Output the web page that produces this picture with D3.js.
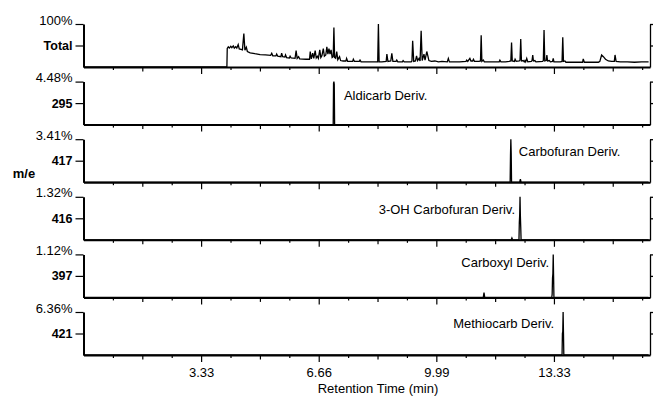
<!DOCTYPE html>
<html>
<head>
<meta charset="utf-8">
<script src="https://cdn.jsdelivr.net/npm/d3@7"></script>
<style>
body { margin: 0; background: #fff; }
svg { display: block; font-family: "Liberation Sans", Arial, Helvetica, sans-serif; }
</style>
</head>
<body>
<svg id="chrom" width="653" height="401"></svg>
<script>
var ionLabels = ['Total', '295', '417', '416', '397', '421'];
var maxLabels = ['100%', '4.48%', '3.41%', '1.32%', '1.12%', '6.36%'];
var peakNames = [null, 'Aldicarb Deriv.', 'Carbofuran Deriv.', '3-OH Carbofuran Deriv.', 'Carboxyl Deriv.', 'Methiocarb Deriv.'];
var peakTimes = [null, 7.09, 12.10, 12.36, 13.30, 13.58];
var xMajorTicks = [3.33, 6.66, 9.99, 13.33];
var xTickLabels = ['3.33', '6.66', '9.99', '13.33'];
var xMinorStep = 0.8325;
var timeMax = 16.04;

// [retention time (min), % of panel full scale]
var totalTrace = [
    [0,0],[4.06,0],[4.07,43],[4.10,47],[4.13,44],[4.17,48],[4.20,45],[4.24,49],[4.27,44],[4.31,47],[4.34,44],
    [4.38,52],[4.41,42],[4.46,41],[4.50,40],[4.54,78],[4.57,39],[4.61,46],[4.64,36],[4.72,33],[4.85,31],
    [5.00,29],[5.15,28],[5.30,27],[5.33,32],[5.36,26],[5.45,26],[5.47,30],[5.50,25],[5.59,24],[5.61,32],
    [5.64,24],[5.70,23],[5.72,28],[5.75,22],[5.83,21],[5.85,25],[5.88,21],[5.99,20],[6.02,38],[6.05,20],
    [6.09,24],[6.12,19],[6.30,18],[6.40,18],[6.42,36],[6.45,19],[6.49,32],[6.52,20],[6.56,38],[6.59,21],
    [6.62,25],[6.65,20],[6.69,40],[6.72,22],[6.75,26],[6.79,43],[6.82,25],[6.86,28],[6.89,47],[6.92,30],
    [6.95,43],[6.98,30],[7.01,40],[7.04,22],[7.07,24],[7.09,92],[7.11,22],[7.14,20],[7.17,36],[7.20,17],
    [7.25,24],[7.28,15],[7.35,14],[7.43,14],[7.45,20],[7.48,13],[7.62,13],[7.64,18],[7.67,13],[7.81,13],
    [7.83,16],[7.86,12],[8.00,12],[8.20,12],[8.33,12],[8.35,100],[8.37,12],[8.45,12],[8.57,13],[8.59,30],
    [8.62,13],[8.70,14],[8.73,32],[8.76,13],[8.85,13],[8.87,16],[8.90,12],[9.03,12],[9.05,15],[9.08,12],
    [9.28,12],[9.30,14],[9.32,61],[9.35,13],[9.40,14],[9.43,26],[9.46,15],[9.50,20],[9.53,14],[9.56,84],
    [9.59,15],[9.64,30],[9.67,16],[9.72,36],[9.75,26],[9.78,15],[9.85,13],[9.95,14],[10.05,12],[10.15,13],
    [10.30,12],[10.33,20],[10.36,12],[10.50,12],[10.65,12],[10.83,13],[10.85,16],[10.88,13],[10.94,20],
    [10.97,14],[11.02,14],[11.04,18],[11.07,13],[11.20,13],[11.24,14],[11.26,74],[11.28,13],[11.32,16],
    [11.35,12],[11.50,12],[11.65,12],[11.77,12],[11.79,16],[11.82,12],[11.95,12],[12.05,13],[12.10,14],
    [12.12,57],[12.14,14],[12.20,13],[12.22,18],[12.25,13],[12.34,14],[12.36,16],[12.38,65],[12.40,14],
    [12.45,15],[12.48,12],[12.50,15],[12.52,12],[12.55,20],[12.58,12],[12.68,13],[12.70,15],[12.72,28],
    [12.74,14],[12.78,15],[12.81,12],[13.00,13],[13.02,15],[13.04,86],[13.06,14],[13.10,15],[13.12,28],
    [13.14,14],[13.19,15],[13.22,12],[13.28,13],[13.30,20],[13.32,12],[13.50,12],[13.55,13],[13.57,69],
    [13.59,13],[13.63,14],[13.66,11],[13.90,11],[14.13,11],[14.15,19],[14.18,11],[14.40,11],[14.58,11],
    [14.62,13],[14.67,28],[14.72,24],[14.78,18],[14.86,14],[14.95,13],[15.03,13],[15.05,28],[15.08,13],
    [15.20,12],[15.40,12],[15.60,11],[15.80,12],[16.00,12]
];
var trace295 = [[0,0],[7.07,0],[7.08,96],[7.09,100],[7.10,94],[7.11,0],[16.0,0]];
var trace417 = [[0,0],[12.08,0],[12.09,62],[12.10,100],[12.11,68],[12.12,0],[12.35,0],[12.37,7],[12.39,0],[16.0,0]];
var trace416 = [[0,0],[12.11,0],[12.13,4],[12.15,0],[12.33,0],[12.34,40],[12.35,57],[12.36,100],[12.37,55],[12.38,30],[12.39,0],[16.0,0]];
var trace397 = [[0,0],[11.32,0],[11.34,11],[11.36,0],[13.26,0],[13.27,8],[13.28,45],[13.29,55],[13.30,100],[13.31,50],[13.32,0],[16.0,0]];
var trace421 = [[0,0],[13.55,0],[13.56,50],[13.57,55],[13.58,100],[13.59,52],[13.60,0],[16.0,0]];
var traces = [totalTrace, trace295, trace417, trace416, trace397, trace421];

// where each compound name sits relative to its peak top
var labelLayout = [null,
    {dx: 10, dy: 14, anchor: 'start'},
    {dx: 8, dy: 12, anchor: 'start'},
    {dx: -5, dy: 13, anchor: 'end'},
    {dx: -4, dy: 8, anchor: 'end'},
    {dx: -9, dy: 11, anchor: 'end'}];

function Chromatogram() {
    this.svg = d3.select('#chrom');
    this.left = 83.5;
    this.right = 650;
    this.top = 24;
    this.step = 57.6;
    this.panelHeight = 43;
    this.x = d3.scaleLinear().domain([0, timeMax]).range([this.left, this.right]);
    this.allTicks = d3.range(1, 20).map(function (i) { return i * xMinorStep; });
    var me = this;
    traces.forEach(function (d, i) { me.drawPanel(i); });
    this.drawTitles();
}

Chromatogram.prototype.drawPanel = function (i) {
    var me = this,
        h = this.panelHeight,
        last = i === traces.length - 1;
    var g = this.svg.append('g').attr('transform', 'translate(0,' + (this.top + i * this.step) + ')');
    var y = d3.scaleLinear().domain([0, 100]).range([h, 0]);

    var line = d3.line()
        .x(function (d) { return me.x(d[0]); })
        .y(function (d) { return y(d[1]); });

    g.append('path')
        .datum(traces[i])
        .attr('d', line)
        .attr('fill', 'none')
        .attr('stroke', '#000')
        .attr('stroke-width', 1.3);

    // bottom time axis, three tick lengths
    var xAxis = d3.axisBottom(this.x)
        .tickValues(this.allTicks)
        .tickSize(3)
        .tickSizeOuter(0)
        .tickFormat(function (d, j) {
            var k = j + 1;
            return last && k % 4 === 0 ? xTickLabels[k / 4 - 1] : '';
        });
    var axg = g.append('g').attr('transform', 'translate(0,' + h + ')').call(xAxis);
    axg.selectAll('.tick line')
        .attr('stroke-width', 1.2)
        .attr('y2', function (d, j) {
            var k = j + 1;
            return k % 4 === 0 ? 7 : (k % 2 === 0 ? 4.5 : 3);
        });
    axg.selectAll('.tick text').attr('y', 13);
    axg.select('.domain').attr('stroke-width', 2);
    axg.attr('font-size', 13).attr('font-family', null);

    // left axis: full scale and ion
    var yAxis = d3.axisLeft(y)
        .tickValues([100, 50])
        .tickSize(8)
        .tickSizeOuter(0)
        .tickFormat(function (d) { return d === 100 ? maxLabels[i] : ionLabels[i]; });
    var ayg = g.append('g').attr('transform', 'translate(' + this.left + ',0)').call(yAxis);
    ayg.attr('font-size', 13).attr('font-family', null);
    ayg.select('.domain').attr('stroke-width', 2);
    ayg.selectAll('.tick line').attr('stroke-width', 1.2);
    ayg.selectAll('.tick text')
        .attr('y', function (d) { return d === 100 ? -4 : 0; })
        .attr('font-weight', function (d) { return d === 50 ? 'bold' : 'normal'; })
        .attr('font-size', function (d) { return d === 50 ? 12.5 : 13; });

    var ryAxis = d3.axisRight(y).tickValues([100, 50]).tickSize(3).tickSizeOuter(0).tickFormat('');
    g.append('g').attr('transform', 'translate(' + this.right + ',0)').call(ryAxis)
        .selectAll('path, line').attr('stroke-width', 1.3);

    if (peakNames[i]) {
        var lay = labelLayout[i];
        g.append('text')
            .attr('x', this.x(peakTimes[i]) + lay.dx)
            .attr('y', lay.dy)
            .attr('dy', '0.35em')
            .attr('text-anchor', lay.anchor)
            .attr('font-size', 13)
            .attr('fill', '#000')
            .text(peakNames[i]);
    }
};

Chromatogram.prototype.drawTitles = function () {
    this.svg.append('text')
        .attr('x', 24)
        .attr('y', 173)
        .attr('dy', '0.35em')
        .attr('text-anchor', 'middle')
        .attr('font-size', 13)
        .attr('font-weight', 'bold')
        .text('m/e');

    this.svg.append('text')
        .attr('x', 378)
        .attr('y', 393)
        .attr('text-anchor', 'middle')
        .attr('font-size', 13)
        .text('Retention Time (min)');
};

new Chromatogram();
</script>
</body>
</html>
